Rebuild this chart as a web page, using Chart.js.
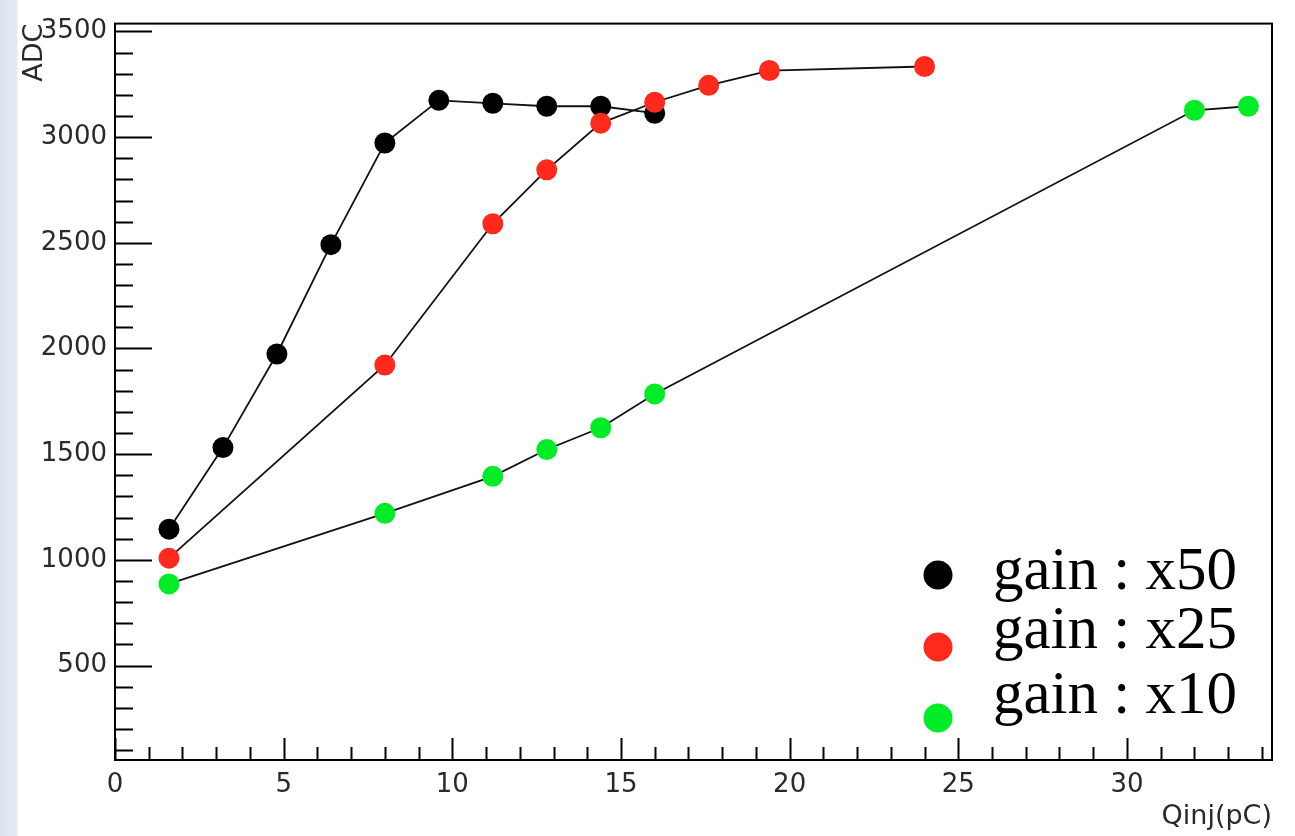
<!DOCTYPE html>
<html>
<head>
<meta charset="utf-8">
<script src="https://cdn.jsdelivr.net/npm/chart.js@4/dist/chart.umd.min.js"></script>
<style>
  html, body {
    margin: 0;
    padding: 0;
    width: 1295px;
    height: 836px;
    overflow: hidden;
    background: linear-gradient(to right, #dce5ef 0px, #e3eaf3 17px, #ffffff 18px);
  }
  #wrap {
    position: relative;
    width: 1295px;
    height: 836px;
  }
</style>
</head>
<body>
<div id="wrap"><canvas id="chartAdc"></canvas></div>
<script>
// charge injected (pC) and ADC counts
const qGain50 = [1.6, 3.2, 4.8, 6.4, 8.0, 9.6, 11.2, 12.8, 14.4, 16.0];
const adcGain50 = [1145, 1531, 1974, 2491, 2972, 3174, 3160, 3146, 3146, 3113];

const qGain25 = [1.6, 8.0, 11.2, 12.8, 14.4, 16.0, 17.6, 19.4, 24.0];
const adcGain25 = [1008, 1922, 2590, 2845, 3066, 3165, 3245, 3315, 3334];

const qGain10 = [1.6, 8.0, 11.2, 12.8, 14.4, 16.0, 32.0, 33.6];
const adcGain10 = [886, 1220, 1395, 1522, 1625, 1785, 3127, 3146];

const xTicks = [0, 5, 10, 15, 20, 25, 30];
const yTicks = [500, 1000, 1500, 2000, 2500, 3000, 3500];
const legendLabels = ['gain : x50', 'gain : x25', 'gain : x10'];

const colBlack = '#000000';
const colRed = '#ff2a1c';
const colGreen = '#00ec26';

function toPoints(xs, ys) {
  const pts = [];
  for (let i = 0; i < xs.length; i++) {
    pts.push({ x: xs[i], y: ys[i] });
  }
  return pts;
}

function makeDataset(label, xs, ys, color) {
  return {
    label: label,
    data: toPoints(xs, ys),
    showLine: true,
    borderColor: '#111',
    borderWidth: 1.8,
    pointRadius: 10.5,
    pointHoverRadius: 10.5,
    pointBackgroundColor: color,
    pointBorderColor: color,
    pointBorderWidth: 0
  };
}

// ROOT style frame with inward ticks
const framePlugin = {
  id: 'frame',
  afterDraw(chart) {
    const ctx = chart.ctx;
    const area = chart.chartArea;
    const xs = chart.scales.x;
    const ys = chart.scales.y;
    ctx.save();
    ctx.strokeStyle = '#000';
    ctx.lineWidth = 2;
    ctx.strokeRect(area.left, area.top, area.right - area.left, area.bottom - area.top);
    ctx.beginPath();
    for (let v = 100; v <= 3500; v += 100) {
      const py = Math.round(ys.getPixelForValue(v)) + 0.5;
      const len = (v % 500 === 0) ? 37 : 18;
      ctx.moveTo(area.left, py);
      ctx.lineTo(area.left + len, py);
    }
    for (let v = 0; v <= 34; v += 1) {
      const px = Math.round(xs.getPixelForValue(v)) + 0.5;
      const len = (v % 5 === 0) ? 22 : 13;
      ctx.moveTo(px, area.bottom);
      ctx.lineTo(px, area.bottom - len);
    }
    ctx.stroke();

    // legend
    const colors = [colBlack, colRed, colGreen];
    const dotY = [575, 647, 718];
    const textY = [589, 648, 713];
    ctx.font = '61px "Liberation Serif", serif';
    ctx.textBaseline = 'alphabetic';
    ctx.textAlign = 'left';
    for (let i = 0; i < legendLabels.length; i++) {
      ctx.fillStyle = colors[i];
      ctx.beginPath();
      ctx.arc(938, dotY[i], 14.5, 0, Math.PI * 2);
      ctx.fill();
      ctx.fillStyle = '#000';
      ctx.fillText(legendLabels[i], 993, textY[i]);
    }
    ctx.restore();
  }
};

const tickFont = { family: '"DejaVu Sans", sans-serif', size: 26 };
const titleFont = { family: '"DejaVu Sans", sans-serif', size: 27, lineHeight: 1 };

const chart = new Chart(document.getElementById('chartAdc'), {
  type: 'scatter',
  data: {
    datasets: [
      makeDataset('gain : x25', qGain25, adcGain25, colRed),
      makeDataset('gain : x50', qGain50, adcGain50, colBlack),
      makeDataset('gain : x10', qGain10, adcGain10, colGreen)
    ]
  },
  options: {
    responsive: true,
    maintainAspectRatio: false,
    animation: false,
    layout: {
      padding: { left: 21, right: 23, top: 20, bottom: 6 }
    },
    plugins: {
      legend: { display: false },
      tooltip: { enabled: false }
    },
    scales: {
      x: {
        type: 'linear',
        min: 0,
        max: 34.3,
        grid: { display: false, drawTicks: false },
        border: { display: false },
        afterBuildTicks: function(scale) {
          scale.ticks = xTicks.map(v => ({ value: v }));
        },
        afterFit: function(scale) {
          scale.height = 70;
        },
        ticks: {
          font: tickFont,
          color: '#2a2a2a',
          padding: 10,
          maxRotation: 0,
          callback: function(value) {
            return String(value);
          }
        },
        title: {
          display: true,
          text: 'Qinj(pC)',
          align: 'end',
          color: '#2a2a2a',
          font: titleFont,
          padding: { top: 0, bottom: 0 }
        }
      },
      y: {
        type: 'linear',
        min: 53,
        max: 3537,
        grid: { display: false, drawTicks: false },
        border: { display: false },
        afterBuildTicks: function(scale) {
          scale.ticks = yTicks.map(v => ({ value: v }));
        },
        afterFit: function(scale) {
          scale.width = 94;
        },
        ticks: {
          font: tickFont,
          color: '#2a2a2a',
          padding: 8,
          callback: function(value) {
            return String(value);
          }
        },
        title: {
          display: true,
          text: 'ADC',
          align: 'end',
          color: '#2a2a2a',
          font: titleFont,
          padding: { top: 0, bottom: 0 }
        }
      }
    }
  },
  plugins: [framePlugin]
});
</script>
</body>
</html>
